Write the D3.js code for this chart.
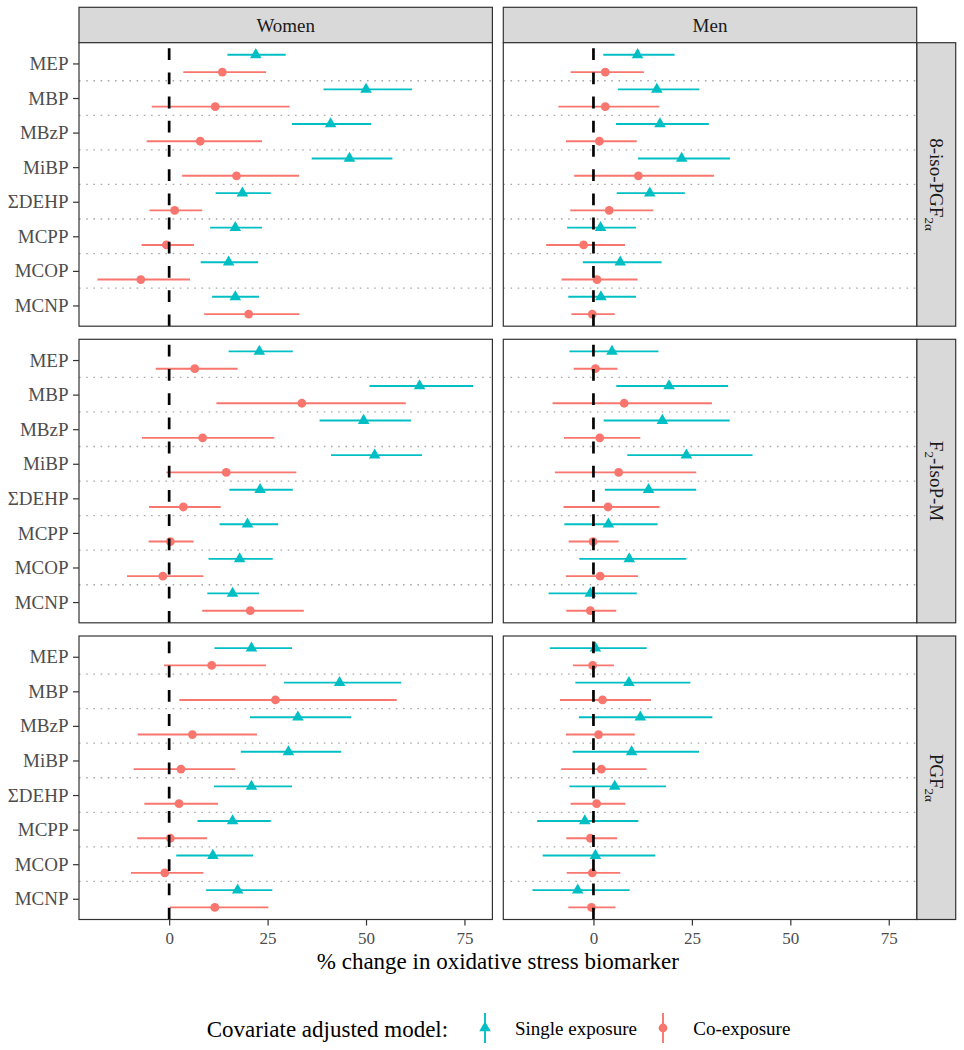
<!DOCTYPE html>
<html><head><meta charset="utf-8">
<script src="https://cdn.jsdelivr.net/npm/d3@7"></script>
<style>
body{margin:0;background:#fff}
svg{display:block}
text{font-family:"Liberation Serif","Times New Roman",serif}
</style>
</head><body>
<svg id="chart" width="964" height="1050"></svg>
<script>
// ---------------- DATA ----------------
const categories = ["MEP","MBP","MBzP","MiBP","ΣDEHP","MCPP","MCOP","MCNP"];
const sexes = ["Women","Men"];
const biomarkers = ["8-iso-PGF2α","F2-IsoP-M","PGF2α"];
// label pieces: [main, subscript, suffix]
const biomarkerLabelParts = [["8-iso-PGF","2α",""],["F","2","-IsoP-M"],["PGF","2α",""]];
const models = ["Single exposure","Co-exposure"];
const xTickValues = [0,25,50,75];
const xTitle = "% change in oxidative stress biomarker";
const legendTitle = "Covariate adjusted model:";

// each row: [estimate, lower, upper], in category order
const women_8iso_single = [[22.0,14.8,29.6],[50.0,39.2,61.7],[41.0,31.2,51.3],[45.8,36.2,56.7],[18.6,11.8,25.8],[16.8,10.4,23.6],[15.1,8.0,22.6],[16.8,10.9,22.8]];
const women_8iso_co     = [[13.5,3.6,24.6],[11.7,-4.4,30.6],[7.9,-5.7,23.6],[17.1,3.3,33.0],[1.4,-5.0,8.4],[-0.7,-7.0,6.3],[-7.2,-18.2,5.3],[20.2,8.9,33.1]];
const men_8iso_single   = [[11.2,2.5,20.6],[16.1,6.2,26.9],[16.9,5.7,29.3],[22.4,11.3,34.7],[14.3,5.9,23.2],[1.8,-6.7,10.8],[6.8,-2.7,17.3],[1.9,-6.4,10.8]];
const men_8iso_co       = [[3.0,-5.8,12.8],[3.0,-8.9,16.7],[1.5,-7.0,11.0],[11.4,-4.9,30.6],[4.0,-5.9,15.2],[-2.5,-12.0,8.0],[0.9,-8.1,11.2],[-0.3,-5.6,5.4]];

const women_f2_single   = [[22.9,15.1,31.4],[63.6,50.9,77.2],[49.4,38.2,61.4],[52.2,41.1,64.2],[23.1,15.3,31.4],[19.9,12.8,27.7],[17.9,10.0,26.3],[16.1,9.7,22.8]];
const women_f2_co       = [[6.5,-3.4,17.4],[33.7,12.0,60.1],[8.5,-6.9,26.7],[14.5,-0.7,32.3],[3.6,-5.1,13.1],[0.3,-5.2,6.2],[-1.6,-10.7,8.7],[20.6,8.4,34.2]];
const men_f2_single     = [[4.7,-6.1,16.5],[19.2,5.8,34.2],[17.5,2.6,34.6],[23.6,8.6,40.4],[14.0,2.9,26.1],[3.8,-7.4,16.3],[9.1,-3.6,23.6],[-0.8,-11.4,11.0]];
const men_f2_co         = [[0.5,-5.0,6.1],[7.8,-10.4,30.1],[1.6,-7.5,11.9],[6.4,-9.8,26.1],[3.7,-7.6,16.8],[-0.1,-6.3,6.4],[1.7,-7.0,11.3],[-0.8,-6.9,5.8]];

const women_pgf_single  = [[20.9,11.5,31.2],[43.3,29.2,58.9],[32.7,20.5,46.2],[30.3,18.2,43.7],[20.9,11.4,31.2],[16.1,7.2,25.8],[11.1,1.8,21.3],[17.4,9.4,26.2]];
const women_pgf_co      = [[10.8,-1.3,24.6],[27.0,2.6,57.8],[5.9,-8.0,22.3],[3.0,-9.0,16.8],[2.5,-6.3,12.4],[0.3,-8.1,9.6],[-1.1,-9.7,8.7],[11.6,0.2,25.2]];
const men_pgf_single    = [[0.5,-11.1,13.5],[9.0,-4.6,24.6],[11.9,-3.7,30.2],[9.7,-5.3,26.8],[5.4,-6.1,18.4],[-2.2,-14.3,11.4],[0.5,-12.9,15.7],[-4.0,-15.5,9.2]];
const men_pgf_co        = [[-0.2,-5.2,5.2],[2.3,-8.5,14.6],[1.3,-7.0,10.5],[2.0,-8.2,13.5],[0.8,-5.8,8.1],[-0.8,-6.9,6.0],[-0.3,-6.8,6.8],[-0.5,-6.4,5.6]];

const panelData = [
  [[women_8iso_single, women_8iso_co], [men_8iso_single, men_8iso_co]],
  [[women_f2_single,   women_f2_co],   [men_f2_single,   men_f2_co]],
  [[women_pgf_single,  women_pgf_co],  [men_pgf_single,  men_pgf_co]]
];

// ---------------- LAYOUT / STYLE ----------------
const colSingle = "#00BFC4", colCo = "#F8766D";
const modelColors = [colSingle, colCo];
const colX0 = [79, 503.3], panelW = 413.4;
const rowY0 = [42.7, 339.3, 636], panelH = 283.5;
const stripTop = 7.3, stripRightW = 39;
const xDomain = [-22.9, 82.1];
const border = "#333333";

const svg = d3.select("#chart");
svg.append("rect").attr("width",964).attr("height",1050).attr("fill","#fff");

const triSym = d3.symbol().type(d3.symbolTriangle).size(58);

// top strips
sexes.forEach((s, c) => {
  const g = svg.append("g");
  g.append("rect").attr("x", colX0[c]).attr("y", stripTop).attr("width", panelW).attr("height", rowY0[0]-stripTop)
    .attr("fill", "#D9D9D9").attr("stroke", border).attr("stroke-width", 1.2);
  g.append("text").attr("x", colX0[c]+panelW/2).attr("y", (stripTop+rowY0[0])/2 + 6.5)
    .attr("text-anchor","middle").attr("font-size",19).attr("fill","#1A1A1A").text(s);
});

// right strips
biomarkers.forEach((b, r) => {
  const x0 = colX0[1]+panelW;
  svg.append("rect").attr("x", x0).attr("y", rowY0[r]).attr("width", stripRightW).attr("height", panelH)
    .attr("fill", "#D9D9D9").attr("stroke", border).attr("stroke-width", 1.2);
  const parts = biomarkerLabelParts[r];
  const cx = x0 + stripRightW/2, cy = rowY0[r] + panelH/2;
  const t = svg.append("text").attr("transform", `translate(${cx - 6.5},${cy}) rotate(90)`)
    .attr("text-anchor","middle").attr("font-size",19).attr("fill","#1A1A1A");
  t.append("tspan").text(parts[0]);
  t.append("tspan").attr("font-size",13).attr("dy",5).text(parts[1]);
  if (parts[2]) t.append("tspan").attr("dy",-5).text(parts[2]);
});

// panels
panelData.forEach((rowArr, r) => {
  rowArr.forEach((pair, c) => {
    const x = d3.scaleLinear().domain(xDomain).range([colX0[c], colX0[c]+panelW]);
    const y = d3.scalePoint().domain(categories).range([rowY0[r], rowY0[r]+panelH]).padding(0.6);
    const step = y.step();
    const g = svg.append("g");
    const clipId = `clip${r}${c}`;
    svg.append("clipPath").attr("id", clipId).append("rect")
      .attr("x", colX0[c]).attr("y", rowY0[r]).attr("width", panelW).attr("height", panelH);
    g.append("rect").attr("x", colX0[c]).attr("y", rowY0[r]).attr("width", panelW).attr("height", panelH).attr("fill","#fff");

    // dotted separators between categories
    const seps = categories.slice(0, -1).map((cat) => y(cat) + step/2);
    g.selectAll("line.sep").data(seps).join("line")
      .attr("x1", colX0[c]).attr("x2", colX0[c]+panelW).attr("y1", d=>d).attr("y2", d=>d)
      .attr("stroke", "#A8A8A8").attr("stroke-width", 1.3).attr("stroke-dasharray","1.6,5.6");

    const inner = g.append("g").attr("clip-path", `url(#${clipId})`);
    pair.forEach((series, m) => {
      const off = (m === 0 ? -0.25 : 0.25) * step;
      const rows = series.map((v, i) => ({cat: categories[i], est: v[0], lo: v[1], hi: v[2]}));
      inner.selectAll(`line.err${m}`).data(rows).join("line")
        .attr("x1", d => x(d.lo)).attr("x2", d => x(d.hi))
        .attr("y1", d => y(d.cat)+off).attr("y2", d => y(d.cat)+off)
        .attr("stroke", modelColors[m]).attr("stroke-width", 1.9);
      if (m === 0) {
        inner.selectAll("path.tri").data(rows).join("path")
          .attr("d", triSym).attr("transform", d => `translate(${x(d.est)},${y(d.cat)+off})`)
          .attr("fill", colSingle);
      } else {
        inner.selectAll("circle.pt").data(rows).join("circle")
          .attr("cx", d => x(d.est)).attr("cy", d => y(d.cat)+off).attr("r", 4.4)
          .attr("fill", colCo);
      }
    });

    // zero reference line, drawn bottom to top
    inner.append("line").attr("x1", x(0)).attr("x2", x(0))
      .attr("y1", rowY0[r]+panelH).attr("y2", rowY0[r])
      .attr("stroke", "#000").attr("stroke-width", 2.7).attr("stroke-dasharray", "11.8,12.4");

    // border
    g.append("rect").attr("x", colX0[c]).attr("y", rowY0[r]).attr("width", panelW).attr("height", panelH)
      .attr("fill","none").attr("stroke", border).attr("stroke-width", 1.2);

    // y axis on left column
    if (c === 0) {
      const ya = svg.append("g").attr("transform", `translate(${colX0[c]},0)`)
        .call(d3.axisLeft(y).tickSize(6).tickPadding(4.5));
      ya.select(".domain").remove();
      ya.selectAll(".tick line").attr("stroke", border).attr("stroke-width", 1.2);
      ya.selectAll(".tick text").attr("font-size", 19).attr("fill", "#4D4D4D")
        .attr("font-family", '"Liberation Serif","Times New Roman",serif');
    }
    // x axis on bottom row
    if (r === 2) {
      const xa = svg.append("g").attr("transform", `translate(0,${rowY0[r]+panelH})`)
        .call(d3.axisBottom(x).tickValues(xTickValues).tickSize(6).tickPadding(6));
      xa.select(".domain").remove();
      xa.selectAll(".tick line").attr("stroke", border).attr("stroke-width", 1.2);
      xa.selectAll(".tick text").attr("font-size", 17).attr("fill", "#4D4D4D")
        .attr("font-family", '"Liberation Serif","Times New Roman",serif');
    }
  });
});

// axis title
svg.append("text").attr("x", (colX0[0] + colX0[1] + panelW)/2).attr("y", 969)
  .attr("text-anchor","middle").attr("font-size", 23).attr("fill","#000").text(xTitle);

// legend
const leg = svg.append("g");
leg.append("text").attr("x", 206.7).attr("y", 1036.5).attr("font-size", 23).attr("fill","#000").text(legendTitle);
const keyX = [485, 663], labX = [515, 693.3], keyY = 1028;
models.forEach((m, i) => {
  leg.append("line").attr("x1", keyX[i]).attr("x2", keyX[i]).attr("y1", keyY-15).attr("y2", keyY+15)
    .attr("stroke", modelColors[i]).attr("stroke-width", 1.9);
  if (i === 0) leg.append("path").attr("d", triSym).attr("transform", `translate(${keyX[i]},${keyY})`).attr("fill", colSingle);
  else leg.append("circle").attr("cx", keyX[i]).attr("cy", keyY).attr("r", 4.4).attr("fill", colCo);
  leg.append("text").attr("x", labX[i]).attr("y", 1035).attr("font-size", 19).attr("fill","#000").text(m);
});
</script>
</body></html>
